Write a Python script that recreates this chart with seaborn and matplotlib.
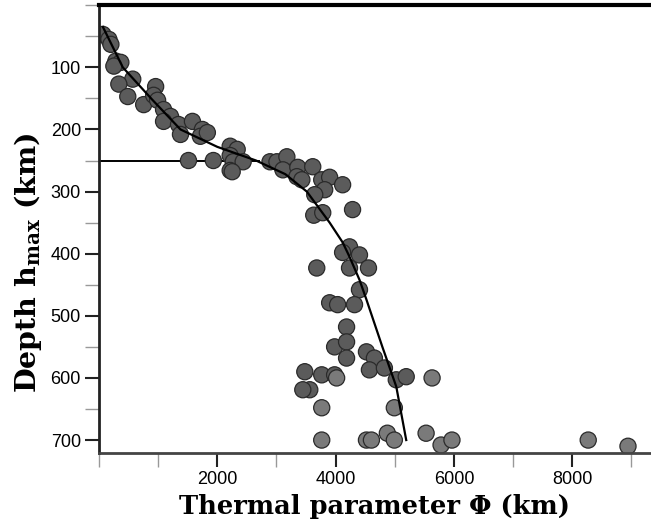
import matplotlib
matplotlib.use('Agg')
import matplotlib.pyplot as plt
from matplotlib.ticker import MultipleLocator
import pandas as pd
import seaborn as sns

# thermal parameter (km) and depth of max (km)
phi_dark = [67, 168, 202, 286, 370, 252, 571, 336, 487, 756, 958, 924, 991, 1092,
            1210, 1092, 1345, 1378, 1580, 1748, 1714, 1832, 2218, 2336, 2218, 2269,
            2437, 2218, 2252, 1513, 1933, 2891, 3008, 3176, 3109, 3361, 3345, 3613,
            3429, 3765, 3899, 4118, 3815, 3647, 3630, 3782, 4286, 4235, 4118, 4403,
            4235, 3681, 4555, 4403, 3899, 4034, 4319, 4185, 3983, 4185, 4185, 4521,
            4655, 4571, 4824, 5025, 5193, 3479, 3765, 3983, 3563, 3445]
depth_dark = [47, 55, 63, 90, 92, 98, 119, 127, 147, 160, 131, 145, 153, 168,
              179, 187, 192, 208, 187, 200, 211, 205, 227, 232, 242, 252,
              252, 266, 268, 250, 250, 252, 252, 244, 265, 261, 276, 260,
              281, 281, 277, 289, 297, 305, 338, 334, 329, 389, 398, 402,
              423, 423, 423, 458, 479, 482, 482, 518, 550, 542, 568, 558,
              568, 587, 584, 603, 598, 590, 595, 595, 619, 619]
phi_light = [4017, 5630, 3765, 4992, 3765, 4521, 4605, 4874, 4992, 5529, 5782, 5966, 8269, 8941]
depth_light = [600, 600, 648, 648, 700, 700, 700, 689, 700, 689, 708, 700, 700, 710]

# fitted curve and the 250 km cut-off line
curve_phi = [67, 403, 900, 1378, 2000, 2655, 3150, 3513, 3899, 4120, 4235, 4403, 4521, 4790, 5025, 5193]
curve_depth = [35, 100, 152, 200, 228, 250, 272, 300, 350, 382, 405, 442, 474, 550, 614, 700]
cut_depth = 250
cut_end = 2700

df = pd.DataFrame({
    'phi': phi_dark + phi_light,
    'depth': depth_dark + depth_light,
    'kind': ['dark'] * len(phi_dark) + ['light'] * len(phi_light),
})

plt.rcParams['mathtext.fontset'] = 'custom'
plt.rcParams['mathtext.rm'] = 'DejaVu Serif:bold'
plt.rcParams['mathtext.bf'] = 'DejaVu Serif:bold'

fig = plt.figure(figsize=(6.51, 5.22), dpi=100)
ax = fig.add_axes([0.152, 0.132, 0.848, 0.858])

ax.plot([0, cut_end], [cut_depth, cut_depth], color='black', lw=1.4, zorder=1)
sns.scatterplot(data=df, x='phi', y='depth', hue='kind',
                palette={'dark': '#5b5b5b', 'light': '#7a7a7a'},
                s=135, edgecolor='#2a2a2a', linewidth=0.9, legend=False,
                ax=ax, zorder=2)
sns.lineplot(x=curve_phi, y=curve_depth, sort=False, color='black', lw=1.6,
             ax=ax, zorder=3)

ax.set_xlim(0, 9330)
ax.set_ylim(721, 0)
ax.xaxis.set_minor_locator(MultipleLocator(1000))
ax.yaxis.set_minor_locator(MultipleLocator(50))
ax.set_xticks([2000, 4000, 6000, 8000])
ax.set_yticks([100, 200, 300, 400, 500, 600, 700])

ax.tick_params(which='major', direction='out', length=10, width=1.5, color='#222',
               labelsize=13, pad=3)
ax.tick_params(which='minor', direction='out', length=10, width=1, color='#999')
for lab in ax.get_xticklabels() + ax.get_yticklabels():
    lab.set_fontfamily('Liberation Sans')

ax.spines['right'].set_visible(False)
ax.spines['top'].set_linewidth(3)
ax.spines['top'].set_color('black')
ax.spines['left'].set_linewidth(2)
ax.spines['left'].set_color('#222')
ax.spines['bottom'].set_linewidth(2)
ax.spines['bottom'].set_color('#444')

ax.set_xlabel('Thermal parameter \u03a6 (km)', fontfamily='DejaVu Serif',
              fontweight='bold', fontsize=18.5, labelpad=4)
ax.set_ylabel(r'Depth h$_{\mathbf{max}}$ (km)', fontfamily='DejaVu Serif',
              fontweight='bold', fontsize=20.5)
ax.yaxis.set_label_coords(-0.1, 0.425)

fig.savefig('out.png', dpi=100)
